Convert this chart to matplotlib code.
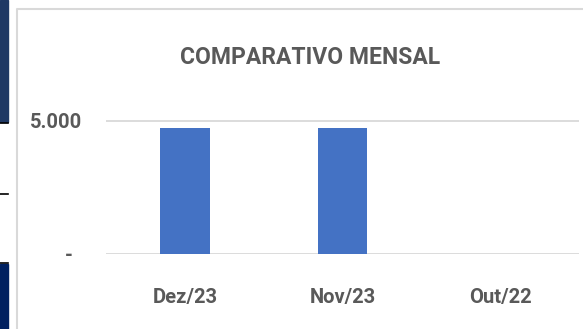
import matplotlib
matplotlib.use("Agg")
import matplotlib.pyplot as plt
from matplotlib.patches import Rectangle
from matplotlib.lines import Line2D
from matplotlib.ticker import FuncFormatter, FixedLocator

# Monthly comparison data
months = ["Dez/23", "Nov/23", "Out/22"]
totals = [4740, 4740, 0]
y_ticks = [0, 5000]

W, H = 583, 329
TEXT = "#595959"
BAR = "#4472C4"
GRID = "#D9D9D9"

plt.rcParams["font.family"] = ["Roboto", "DejaVu Sans"]

fig = plt.figure(figsize=(W / 100, H / 100), dpi=100)
fig.patch.set_facecolor("white")


def px(x0, y0, w, h):
    # pixel box (top-left origin) -> figure fraction
    return [x0 / W, 1 - (y0 + h) / H, w / W, h / H]


# pieces of neighbouring panels on the left edge
deco = fig.add_axes([0, 0, 1, 1])
deco.set_xlim(0, W)
deco.set_ylim(H, 0)
deco.axis("off")
deco.add_patch(Rectangle((0, 0), 8, 122, color="#1F3864"))
deco.add_patch(Rectangle((0, 264), 8, 70, color="#002060"))
for y in (123, 193.5, 263):
    deco.add_line(Line2D([0, 8], [y, y], color="black", lw=1.2))
# card border
deco.add_line(Line2D([16.5, 16.5, W + 5], [H + 5, 8.5, 8.5], color=GRID, lw=1.5))

# plot area
ymax = 5600
scale = 132.5 / 5000
top = 253.5 - ymax * scale
ax = fig.add_axes(px(106, top, 473, ymax * scale))
ax.patch.set_visible(False)
ax.set_xlim(-0.5, len(months) - 0.5)
ax.set_ylim(0, ymax)
ax.bar(range(len(months)), totals, width=0.317, color=BAR, zorder=3)

ax.yaxis.set_major_locator(FixedLocator(y_ticks))
ax.yaxis.set_major_formatter(
    FuncFormatter(lambda v, _: "-  " if v == 0 else f"{v:,.0f}".replace(",", "."))
)
ax.set_xticks(range(len(months)))
ax.set_xticklabels(months)
ax.grid(axis="y", color=GRID, lw=1.3, zorder=0)
for s in ax.spines.values():
    s.set_visible(False)
ax.tick_params(length=0, colors=TEXT, labelsize=14.5)
ax.tick_params(axis="x", pad=24.5)
ax.tick_params(axis="y", pad=17)
for lbl in ax.get_xticklabels() + ax.get_yticklabels():
    lbl.set_fontweight("bold")

fig.text(310 / W, 1 - 58 / H, "COMPARATIVO MENSAL", ha="center", va="center",
         fontsize=16.5, fontweight="bold", color=TEXT)

fig.savefig("out.png", dpi=100)
